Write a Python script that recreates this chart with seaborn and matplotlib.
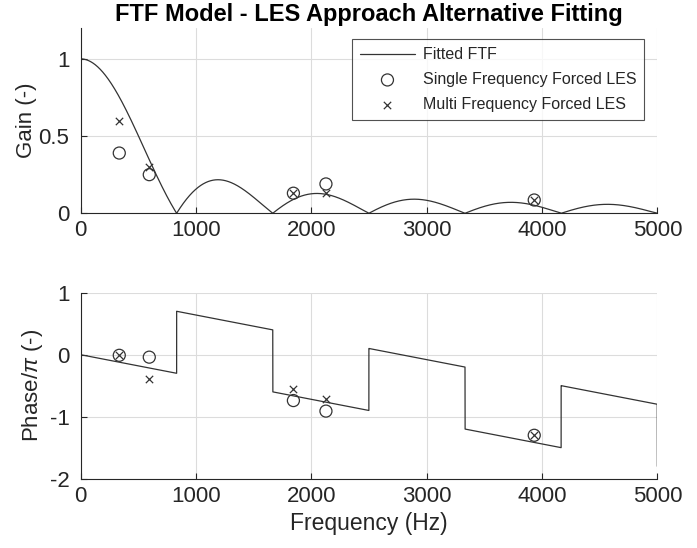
import numpy as np
import pandas as pd
import matplotlib
matplotlib.use("Agg")
import matplotlib.pyplot as plt
import seaborn as sns

# Fitted FTF model parameters (sinc gain with a pure time delay)
first_zero_hz = 833.0      # first zero of the gain
delay_s = 0.18e-3          # convective time delay
f_max = 5000.0

# LES results
les_freq = [336, 596, 1845, 2127, 3932]
single_gain = [0.39, 0.25, 0.13, 0.19, 0.086]
multi_gain = [0.60, 0.30, 0.13, 0.134, 0.086]
single_phase = [-0.01, -0.04, -0.74, -0.91, -1.30]
multi_phase = [-0.01, -0.39, -0.56, -0.71, -1.29]

x_ticks = [0, 1000, 2000, 3000, 4000, 5000]
gain_ticks = [0, 0.5, 1]
phase_ticks = [-2, -1, 0, 1]

# Model curve
freq = np.linspace(0.0, f_max, 20001)
arg = freq / first_zero_hz
sinc_val = np.sinc(arg)
gain = np.abs(sinc_val)
phase = -2.0 * freq * delay_s + np.where(sinc_val < 0, 1.0, 0.0)
model = pd.DataFrame({"freq": freq, "gain": gain, "phase": phase})
les = pd.DataFrame({"freq": les_freq, "single_gain": single_gain, "multi_gain": multi_gain,
                    "single_phase": single_phase, "multi_phase": multi_phase})

sns.set_theme(style="ticks")
plt.rcParams["font.family"] = ["Liberation Sans", "DejaVu Sans"]
plt.rcParams["mathtext.fontset"] = "custom"
plt.rcParams["mathtext.rm"] = "Liberation Sans"
plt.rcParams["mathtext.it"] = "Liberation Sans:italic"
plt.rcParams["axes.unicode_minus"] = False

dark = "#262626"
line_col = "#333333"

fig = plt.figure(figsize=(6.97, 5.48), dpi=100)
ax1 = fig.add_axes([0.1155, 0.6108, 0.8278, 0.3382])
ax2 = fig.add_axes([0.1155, 0.1265, 0.8278, 0.3394])

def style(ax, yticks, ylim):
    ax.set_xlim(0, f_max)
    ax.set_ylim(*ylim)
    ax.set_xticks(x_ticks)
    ax.set_yticks(yticks)
    ax.grid(True, color="#dcdcdc", linewidth=0.8)
    ax.set_axisbelow(True)
    for s in ["top", "right"]:
        ax.spines[s].set_visible(False)
    for s in ["left", "bottom"]:
        ax.spines[s].set_color(dark)
        ax.spines[s].set_linewidth(0.8)
    ax.tick_params(direction="in", length=4, width=0.8, colors=dark,
                   labelsize=16, labelcolor=dark, pad=5)
    ax.tick_params(axis="y", pad=8)

# Gain
sns.lineplot(data=model, x="freq", y="gain", ax=ax1, color=line_col, linewidth=0.9,
             label="Fitted FTF", estimator=None, sort=False)
sns.scatterplot(data=les, x="freq", y="single_gain", ax=ax1, marker="o", s=75,
                facecolor="none", edgecolor=line_col, linewidth=0.9,
                label="Single Frequency Forced LES")
sns.scatterplot(data=les, x="freq", y="multi_gain", ax=ax1, marker="x", s=28,
                color=line_col, linewidth=0.9, label="Multi Frequency Forced LES")
style(ax1, gain_ticks, (0, 1.2))
ax1.set_yticklabels(["0", "0.5", "1"])
ax1.set_xlabel("")
ax1.set_ylabel("Gain (-)", fontsize=16, color=dark, labelpad=1)
ax1.set_title("FTF Model - LES Approach Alternative Fitting", fontsize=17,
              fontweight="bold", color="black", pad=5)
leg = ax1.legend(loc="upper right", bbox_to_anchor=(0.977, 0.939), borderaxespad=0,
                 fontsize=11.5, frameon=True, fancybox=False, handlelength=3.4,
                 handletextpad=0.5, borderpad=0.5, labelspacing=0.62)
leg.get_frame().set_edgecolor(dark)
leg.get_frame().set_linewidth(0.8)

# Phase
sns.lineplot(data=model, x="freq", y="phase", ax=ax2, color=line_col, linewidth=0.9,
             estimator=None, sort=False)
sns.scatterplot(data=les, x="freq", y="single_phase", ax=ax2, marker="o", s=75,
                facecolor="none", edgecolor=line_col, linewidth=0.9)
sns.scatterplot(data=les, x="freq", y="multi_phase", ax=ax2, marker="x", s=28,
                color=line_col, linewidth=0.9)
style(ax2, phase_ticks, (-2, 1))
ax2.set_xlabel("Frequency (Hz)", fontsize=16.5, color=dark)
ax2.set_ylabel(r"Phase/$\pi$ (-)", fontsize=16, color=dark, labelpad=3)

fig.savefig("out.png", dpi=100)
